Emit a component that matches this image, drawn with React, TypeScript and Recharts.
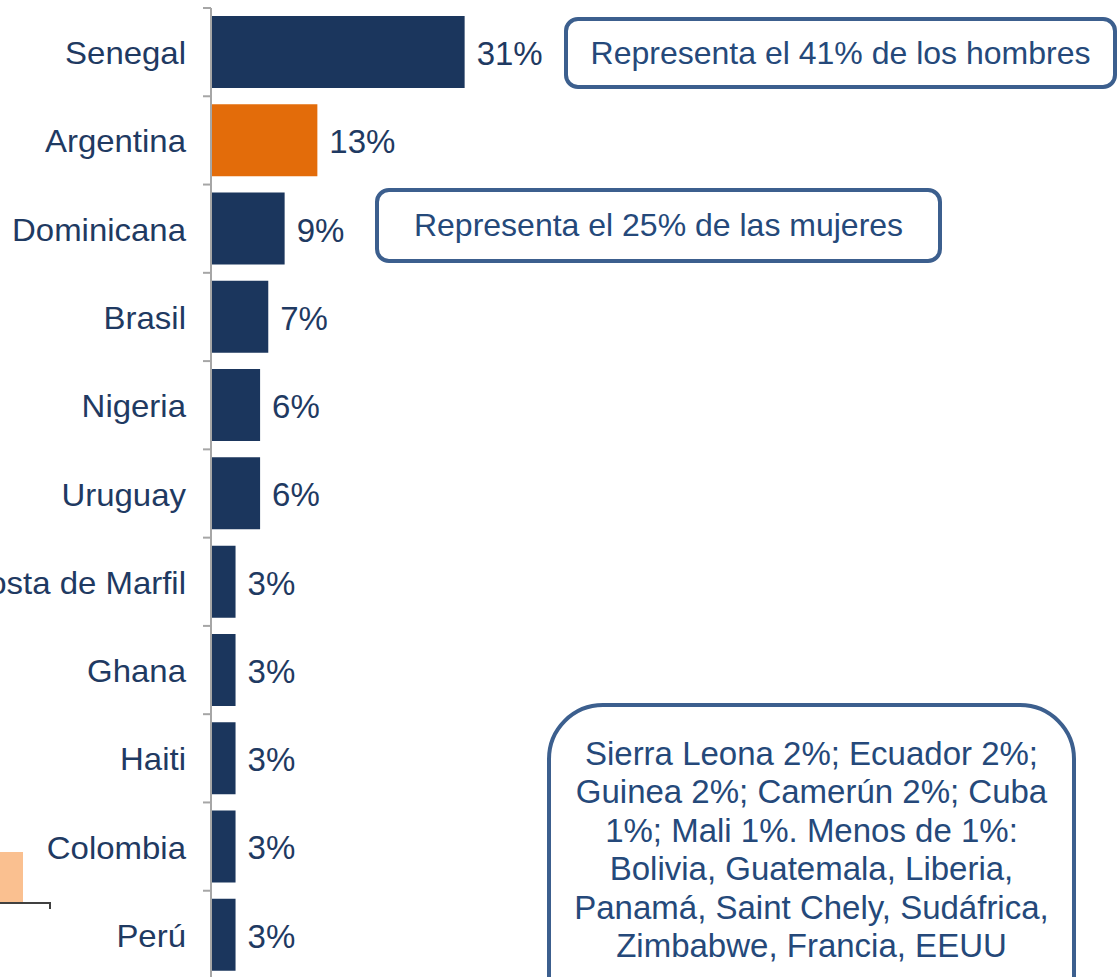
import React from 'react';
import { BarChart, Bar, XAxis, YAxis, Cell, LabelList } from 'recharts';

const paises = ['Senegal', 'Argentina', 'Dominicana', 'Brasil', 'Nigeria', 'Uruguay', 'Costa de Marfil', 'Ghana', 'Haiti', 'Colombia', 'Perú'];
const porcentajes = [31, 13, 9, 7, 6, 6, 3, 3, 3, 3, 3];
const destacado = 'Argentina';

const notaHombres = 'Representa el 41% de los hombres';
const notaMujeres = 'Representa el 25% de las mujeres';
const notaOtros = [
    'Sierra Leona 2%; Ecuador 2%;',
    'Guinea 2%; Camerún 2%; Cuba',
    '1%; Mali 1%. Menos de 1%:',
    'Bolivia, Guatemala, Liberia,',
    'Panamá, Saint Chely, Sudáfrica,',
    'Zimbabwe, Francia, EEUU',
];

const data = paises.map((pais, i) => ({ pais, valor: porcentajes[i] }));

const NAVY = '#1b365d';
const ORANGE = '#e36c0a';
const TEXT = '#1f3a62';
const BOX_TEXT = '#25497a';
const BORDER = '#3c5f8e';
const FONT = '"Liberation Sans", Arial, sans-serif';

const CHART_H = 990;
const MARGIN = { top: 8, right: 9, bottom: 11, left: 0 };
const BAND = (CHART_H - MARGIN.top - MARGIN.bottom) / paises.length;

// tick mark sits on the top edge of each category band
// eslint-disable-next-line @typescript-eslint/no-explicit-any
function PaisTick(props: any) {
    const { x, y, payload } = props;
    const top = y - BAND / 2;
    return (
        <g>
            <line x1={x - 8} x2={x} y1={top} y2={top} stroke="#a6a6a6" strokeWidth={2} />
            <text
                transform={`translate(${x - 25},${y + 12}) scale(1.03,1)`}
                textAnchor="end"
                fill={TEXT}
                fontSize={32}
                fontFamily={FONT}
            >
                {payload.value}
            </text>
        </g>
    );
}

// eslint-disable-next-line @typescript-eslint/no-explicit-any
function ValorLabel(props: any) {
    const { x, y, width, height, value } = props;
    return (
        <text x={x + width + 12} y={y + height / 2 + 13} fill={TEXT} fontSize={33} fontFamily={FONT}>
            {`${value}%`}
        </text>
    );
}

const boxBase: React.CSSProperties = {
    position: 'absolute',
    boxSizing: 'border-box',
    border: `4px solid ${BORDER}`,
    background: '#fff',
    color: BOX_TEXT,
    fontFamily: FONT,
    display: 'flex',
    alignItems: 'center',
    justifyContent: 'center',
    textAlign: 'center',
    whiteSpace: 'nowrap',
};

export default function App() {
    return (
        <div style={{ position: 'absolute', left: 0, top: 0, width: 1120, height: 977, overflow: 'hidden', background: '#fff' }}>
            <BarChart width={1120} height={CHART_H} data={data} layout="vertical" margin={MARGIN}>
                <XAxis type="number" domain={[0, 110]} hide />
                <YAxis
                    type="category"
                    dataKey="pais"
                    width={211}
                    axisLine={{ stroke: '#a6a6a6', strokeWidth: 2 }}
                    tickLine={false}
                    tickSize={0}
                    tickMargin={0}
                    interval={0}
                    tick={<PaisTick />}
                />
                <Bar dataKey="valor" barSize={72} isAnimationActive={false}>
                    {data.map(d => (
                        <Cell key={d.pais} fill={d.pais === destacado ? ORANGE : NAVY} />
                    ))}
                    <LabelList dataKey="valor" content={<ValorLabel />} />
                </Bar>
            </BarChart>

            <div style={{ ...boxBase, left: 564, top: 17, width: 553, height: 72, borderRadius: 14, fontSize: 32 }}>
                {notaHombres}
            </div>
            <div style={{ ...boxBase, left: 375, top: 188, width: 567, height: 75, borderRadius: 14, fontSize: 32 }}>
                {notaMujeres}
            </div>
            <div
                style={{
                    ...boxBase,
                    left: 547,
                    top: 703,
                    width: 529,
                    height: 330,
                    borderRadius: 56,
                    fontSize: 33,
                    lineHeight: '38.4px',
                    flexDirection: 'column',
                    justifyContent: 'flex-start',
                    alignItems: 'stretch',
                    paddingTop: 28,
                }}
            >
                {notaOtros.map(l => (
                    <div key={l}>{l}</div>
                ))}
            </div>

            {/* fragment of the neighbouring chart, cut at the left edge */}
            <div style={{ position: 'absolute', left: 0, top: 852, width: 23, height: 51, background: '#fac090' }} />
            <div style={{ position: 'absolute', left: 0, top: 902, width: 50, height: 2, background: '#404040' }} />
            <div style={{ position: 'absolute', left: 49, top: 902, width: 2, height: 7, background: '#404040' }} />
        </div>
    );
}
